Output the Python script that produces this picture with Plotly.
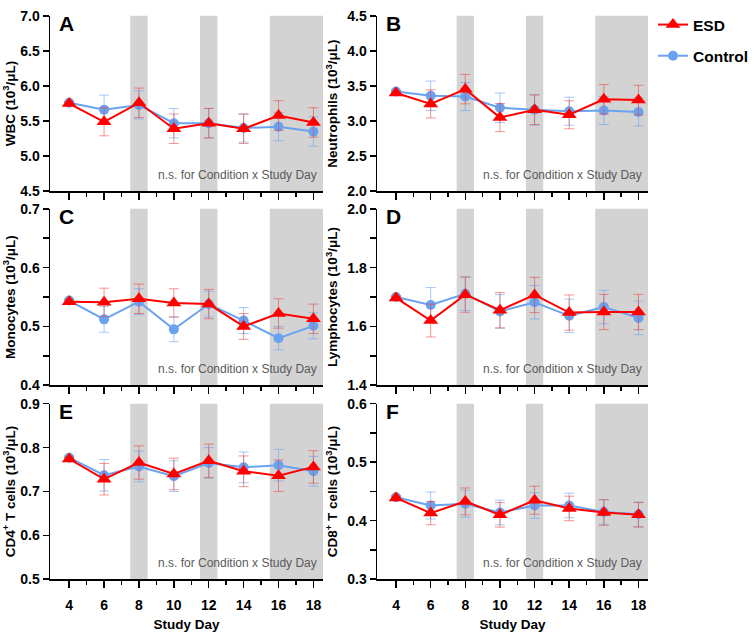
import plotly.graph_objects as go

# ---------------- data ----------------
days = [4, 6, 8, 10, 12, 14, 16, 18]
x_tick_labels = ["4", "6", "8", "10", "12", "14", "16", "18"]
series_names = ["ESD", "Control"]
panel_letters = ["A", "B", "C", "D", "E", "F"]
y_titles = [
    "WBC (10<sup>3</sup>/μL)",
    "Neutrophils (10<sup>3</sup>/μL)",
    "Monocytes (10<sup>3</sup>/μL)",
    "Lymphocytes (10<sup>3</sup>/μL)",
    "CD4<sup>+</sup> T cells (10<sup>3</sup>/μL)",
    "CD8<sup>+</sup> T cells (10<sup>3</sup>/μL)",
]
x_title = "Study Day"
note_text = "n.s. for Condition x Study Day"
shade_start = [7.5, 11.5, 15.5]
shade_end = [8.5, 12.5, 18.55]

wbc_esd = [5.75, 5.49, 5.76, 5.39, 5.47, 5.39, 5.58, 5.48]
wbc_esd_err = [0.02, 0.20, 0.21, 0.21, 0.21, 0.21, 0.21, 0.21]
wbc_ctrl = [5.76, 5.66, 5.73, 5.47, 5.47, 5.40, 5.42, 5.35]
wbc_ctrl_err = [0.02, 0.21, 0.20, 0.21, 0.21, 0.20, 0.20, 0.21]

neut_esd = [3.40, 3.245, 3.455, 3.05, 3.16, 3.09, 3.31, 3.30]
neut_esd_err = [0.02, 0.20, 0.21, 0.20, 0.21, 0.20, 0.21, 0.21]
neut_ctrl = [3.42, 3.36, 3.35, 3.19, 3.16, 3.14, 3.15, 3.13]
neut_ctrl_err = [0.02, 0.21, 0.20, 0.21, 0.22, 0.20, 0.20, 0.20]

mono_esd = [0.542, 0.541, 0.547, 0.540, 0.538, 0.500, 0.522, 0.513]
mono_esd_err = [0.003, 0.024, 0.025, 0.024, 0.025, 0.022, 0.025, 0.025]
mono_ctrl = [0.544, 0.512, 0.542, 0.495, 0.538, 0.510, 0.480, 0.501]
mono_ctrl_err = [0.003, 0.022, 0.022, 0.021, 0.022, 0.022, 0.020, 0.022]

lymph_esd = [1.697, 1.620, 1.708, 1.655, 1.707, 1.647, 1.649, 1.649]
lymph_esd_err = [0.005, 0.056, 0.060, 0.060, 0.060, 0.060, 0.060, 0.060]
lymph_ctrl = [1.700, 1.673, 1.711, 1.651, 1.682, 1.636, 1.666, 1.629]
lymph_ctrl_err = [0.005, 0.059, 0.057, 0.057, 0.057, 0.057, 0.057, 0.057]

cd4_esd = [0.774, 0.728, 0.766, 0.740, 0.770, 0.746, 0.736, 0.756]
cd4_esd_err = [0.004, 0.036, 0.038, 0.036, 0.038, 0.035, 0.036, 0.037]
cd4_ctrl = [0.777, 0.737, 0.757, 0.735, 0.765, 0.755, 0.760, 0.746]
cd4_ctrl_err = [0.004, 0.036, 0.035, 0.035, 0.035, 0.035, 0.036, 0.034]

cd8_esd = [0.439, 0.413, 0.433, 0.410, 0.435, 0.421, 0.414, 0.410]
cd8_esd_err = [0.003, 0.020, 0.023, 0.021, 0.024, 0.021, 0.022, 0.021]
cd8_ctrl = [0.440, 0.426, 0.429, 0.414, 0.426, 0.426, 0.415, 0.411]
cd8_ctrl_err = [0.003, 0.023, 0.023, 0.021, 0.022, 0.021, 0.021, 0.021]

y_ranges = [[4.5, 7.0], [2.0, 4.5], [0.4, 0.7], [1.4, 2.0], [0.5, 0.9], [0.3, 0.6]]
y_dticks = [0.5, 0.5, 0.1, 0.2, 0.1, 0.1]
y_minor = [None, None, 0.05, 0.1, None, 0.05]

esd_vals = [wbc_esd, neut_esd, mono_esd, lymph_esd, cd4_esd, cd8_esd]
esd_errs = [wbc_esd_err, neut_esd_err, mono_esd_err, lymph_esd_err, cd4_esd_err, cd8_esd_err]
ctrl_vals = [wbc_ctrl, neut_ctrl, mono_ctrl, lymph_ctrl, cd4_ctrl, cd8_ctrl]
ctrl_errs = [wbc_ctrl_err, neut_ctrl_err, mono_ctrl_err, lymph_ctrl_err, cd4_ctrl_err, cd8_ctrl_err]

# ---------------- style ----------------
W, H = 756, 633
FONT = "Liberation Sans, Arial, sans-serif"
RED = "#ff0000"
BLUE = "#69a3f0"
RED_ERR = "rgba(235,60,60,0.55)"
BLUE_ERR = "rgba(105,163,240,0.6)"
SHADE = "#d3d3d3"
X_RANGE = [2.9, 18.55]

col_px = [(50, 323), (377, 648)]
row_px = [(8, 188), (206, 387), (406, 586)]

fig = go.Figure()
layout = dict(
    width=W, height=H,
    margin=dict(l=0, r=0, t=0, b=0),
    paper_bgcolor="white", plot_bgcolor="white",
    font=dict(family=FONT, color="black"),
    showlegend=True,
    legend=dict(
        x=653 / W, y=1, xanchor="left", yanchor="top",
        font=dict(family=FONT, size=15.5, weight="bold", color="black"),
        bgcolor="rgba(0,0,0,0)", tracegroupgap=8,
        itemwidth=30,
    ),
)
shapes = []
annotations = []

for i in range(6):
    r, c = i // 2, i % 2
    xa = "xaxis" if i == 0 else f"xaxis{i+1}"
    ya = "yaxis" if i == 0 else f"yaxis{i+1}"
    xr = "x" if i == 0 else f"x{i+1}"
    yr = "y" if i == 0 else f"y{i+1}"
    x0p, x1p = col_px[c]
    t, b = row_px[r]
    xdict = dict(
        domain=[x0p / W, x1p / W], anchor=yr, range=X_RANGE,
        showgrid=False, zeroline=False, showline=True, linecolor="black", linewidth=1.5,
        ticks="outside", ticklen=7, tickwidth=1.5, tickcolor="black",
        tickvals=days, ticktext=x_tick_labels,
        showticklabels=(r == 2), ticklabelstandoff=6,
        tickfont=dict(family=FONT, size=14, weight="bold", color="black"),
        minor=dict(tickvals=[5, 7, 9, 11, 13, 15, 17], ticks="outside", ticklen=4,
                   tickwidth=1.5, tickcolor="black", showgrid=False),
        fixedrange=True,
    )
    if r == 2:
        xdict["title"] = dict(text=x_title,
                              font=dict(family=FONT, size=13.5, weight="bold", color="black"),
                              standoff=7)
    layout[xa] = xdict
    ydict = dict(
        domain=[1 - b / H, 1 - t / H], anchor=xr, range=y_ranges[i],
        showgrid=False, zeroline=False, showline=True, linecolor="black", linewidth=1.5,
        ticks="outside", ticklen=6, tickwidth=1.5, tickcolor="black",
        dtick=y_dticks[i], tick0=0, tickformat=".1f",
        tickfont=dict(family=FONT, size=14, weight="bold", color="black"),
        title=dict(text=y_titles[i], standoff=6,
                   font=dict(family=FONT, size=13.5, weight="bold", color="black")),
        fixedrange=True,
    )
    if y_minor[i]:
        ydict["minor"] = dict(dtick=y_minor[i], tick0=0, ticks="outside", ticklen=6,
                              tickwidth=1.5, tickcolor="black", showgrid=False)
    layout[ya] = ydict

    for s0, s1 in zip(shade_start, shade_end):
        shapes.append(dict(type="rect", xref=xr, yref=f"{yr} domain",
                           x0=s0, x1=s1, y0=0, y1=1, fillcolor=SHADE,
                           line=dict(width=0), layer="below"))

    annotations.append(dict(text=panel_letters[i], xref=f"{xr} domain", yref=f"{yr} domain",
                            x=0.026, y=1 - 8 / 180, xanchor="left", yanchor="middle", showarrow=False,
                            font=dict(family=FONT, size=21, weight="bold", color="black")))
    annotations.append(dict(text=note_text, xref=f"{xr} domain", yref=f"{yr} domain",
                            x=0.985, y=0.04, xanchor="right", yanchor="bottom", showarrow=False,
                            font=dict(family=FONT, size=12, color="#5a5a5a")))

    fig.add_trace(go.Scatter(
        x=days, y=ctrl_vals[i], xaxis=xr, yaxis=yr, mode="lines+markers",
        name=series_names[1], legendgroup="ctrl", legendrank=2, showlegend=(i == 0),
        line=dict(color=BLUE, width=2),
        marker=dict(symbol="circle", size=10, color=BLUE),
        error_y=dict(type="data", array=ctrl_errs[i], color=BLUE_ERR, thickness=1, width=5),
        cliponaxis=False,
    ))
    fig.add_trace(go.Scatter(
        x=days, y=esd_vals[i], xaxis=xr, yaxis=yr, mode="lines+markers",
        name=series_names[0], legendgroup="esd", legendrank=1, showlegend=(i == 0),
        line=dict(color=RED, width=2),
        marker=dict(symbol="triangle-up", size=13, color=RED),
        error_y=dict(type="data", array=esd_errs[i], color=RED_ERR, thickness=1, width=5),
        cliponaxis=False,
    ))

layout["shapes"] = shapes
layout["annotations"] = annotations
fig.update_layout(**layout)
fig.write_html("out.html", config={"displayModeBar": False, "staticPlot": True},
               post_script="document.body.style.margin='0px';")
